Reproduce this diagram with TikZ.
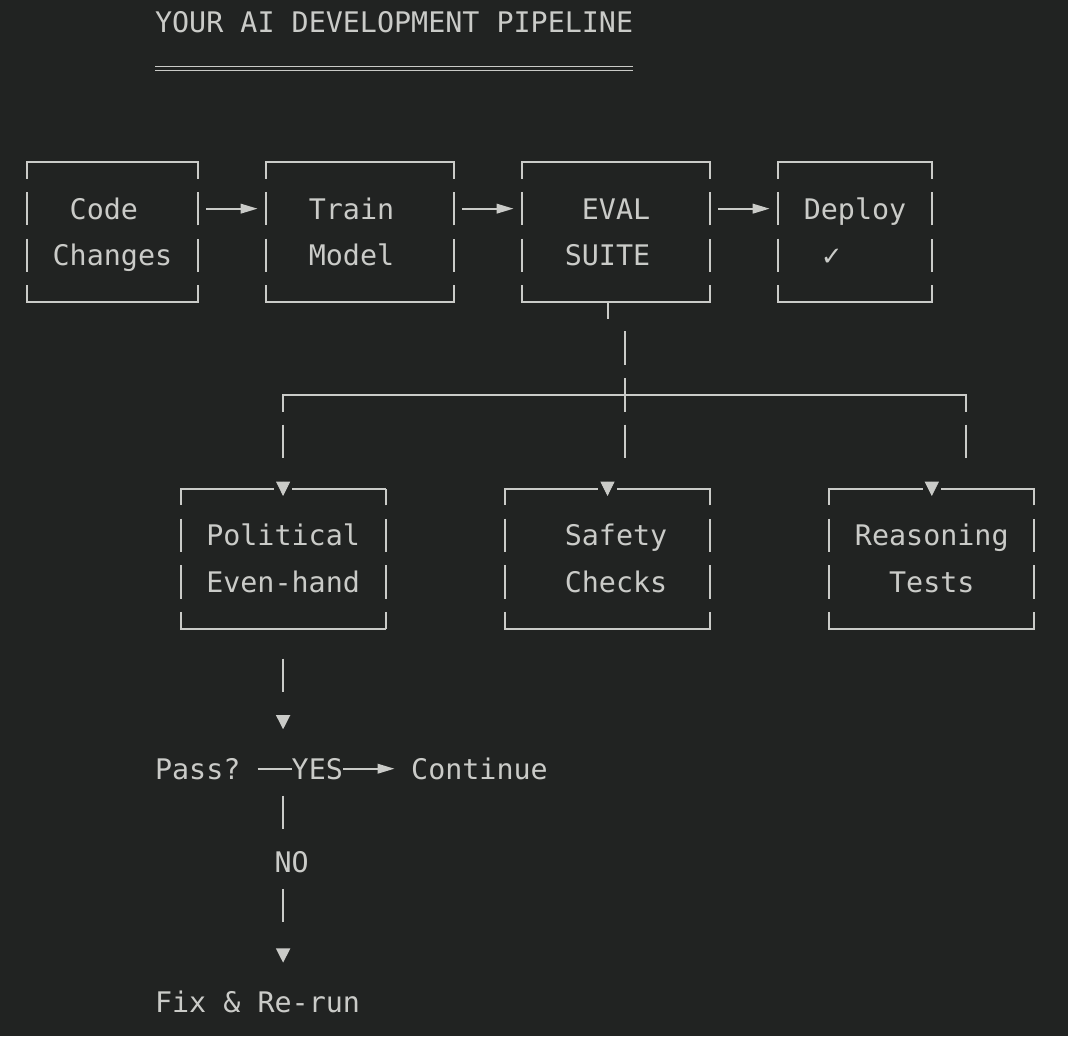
\documentclass[tikz,border=0pt]{standalone}
\usepackage{fontspec}
\setmonofont{DejaVu Sans Mono}
\newfontfamily\checkfont{DejaVu Sans}
\usepackage{tikz}
\usetikzlibrary{arrows.meta,calc}
\definecolor{termBg}{HTML}{212322}
\definecolor{termFg}{HTML}{CACBC8}
\newcommand\mono{\ttfamily\fontsize{14.18pt}{23.33pt}\selectfont}
\newcommand\monopad{\hphantom{0}}
\tikzset{
  % one text cell = 17.07px wide, one text row = 46.67px high (1px = 0.5pt)
  txt/.style={
    font=\mono,
    text=termFg,
    inner sep=0pt,
    outer sep=0pt,
    text height=10.3pt,
    text depth=0pt,
    anchor=west
  },
  hbar/.style={
    draw=termFg,
    line width=0.95pt,
    line cap=rect
  },
  vbar/.style={
    draw=termFg,
    line width=1pt
  },
  boxside/.style={
    vbar,
    dash pattern=on 16.75pt off 6.585pt,
    dash phase=8.375pt
  },
  asciibox/.style={
    minimum width=#1,
    minimum height=70pt,
    inner sep=0pt,
    outer sep=0pt,
    align=left,
    font=\mono,
    text=termFg,
    text height=37.33pt,
    text depth=3.66pt,
    append after command={
      (\tikzlastnode.north west) edge[hbar] (\tikzlastnode.north east)
                                 edge[boxside] (\tikzlastnode.south west)
      (\tikzlastnode.south east) edge[hbar] (\tikzlastnode.south west)
                                 edge[boxside] (\tikzlastnode.north east)
    }
  },
  flow/.style={
    hbar,
    line cap=butt,
    -{Triangle[length=8.5pt,width=4.8pt]},
    shorten <=4.27pt,
    shorten >=4.27pt
  },
  tipdown/.style={
    draw=termFg,
    -{Triangle[length=7.15pt,width=7pt]}
  },
  dblrule/.style={
    draw=termFg,
    double=termBg,
    double distance=1.2pt,
    line width=0.85pt
  }
}

\begin{document}
\begin{tikzpicture}[x=0.5pt,y=-0.5pt]

\fill[termBg] (0,0) rectangle (1068,1036);

\node[txt] (title) at (155.1,22) {YOUR AI DEVELOPMENT PIPELINE};
\draw[dblrule] ([yshift=-18.1pt]title.south west) -- ([yshift=-18.1pt]title.south east);

% main pipeline
\node[asciibox=85.35pt] (code) at (112.4,232) {\monopad Code\\Changes};
\node[asciibox=93.9pt] (train) at (360,232) {Train\monopad\\Model};
\node[asciibox=93.9pt] (eval) at (616,232) {\monopad EVAL\monopad\\SUITE};
\node[asciibox=76.8pt] (deploy) at (855,232)
{Deploy\\\monopad{\checkfont\fontsize{13pt}{13pt}\selectfont ✓}};

\draw[flow] ([yshift=11.67pt]code.east) -- ([yshift=11.67pt]train.west);
\draw[flow] ([yshift=11.67pt]train.west -| train.east) -- ([yshift=11.67pt]eval.west);
\draw[flow] ([yshift=11.67pt]eval.east) -- ([yshift=11.67pt]deploy.west);

% eval checks
\node[asciibox=102.4pt] (pol) at (283.1,558.7) {Political\\Even-hand};
\node[asciibox=102.4pt] (safe) at (607.5,558.7) {\monopad Safety\\\monopad Checks};
\node[asciibox=102.4pt] (reas) at (931.8,558.7) {Reasoning\\\monopad\monopad Tests};

\coordinate (hub) at (624.5,395.4);
\coordinate (lft) at (pol.north |- hub);
\coordinate (rgt) at (965.9,395.4);

\draw[vbar] ([xshift=-4.25pt]eval.south) -- ++(0,16.75);
\draw[vbar, dash pattern=on 16.75pt off 6.585pt] ([yshift=32pt]hub) -- ([yshift=-31.4pt]hub);
\draw[hbar] (lft) -- (rgt);
\foreach \c in {lft,rgt}
  \draw[vbar, dash pattern=on 8.375pt off 6.3pt on 16.75pt off 20pt] (\c) -- ++(0,62.8);
\foreach \b in {pol,safe,reas}{
  \fill[termBg] ([xshift=-4.6pt,yshift=1.2pt]\b.north) rectangle ([xshift=4.6pt,yshift=-1.2pt]\b.north);
  \draw[tipdown] ([yshift=3.5pt]\b.north) -- ([yshift=-3.65pt]\b.north);
}

% decision
\coordinate (dec) at (283.1,768.7);
\node[txt] (pass) at (155.1,768.7) {Pass?};
\node[txt] (cont) at (411.2,768.7) {Continue};
\node[txt] (no) at (274.6,862.1) {NO};
\node[txt] (fix) at (155.1,1002.1) {Fix \& Re-run};

\draw[vbar, tipdown, dash pattern=on 16.75pt off 40pt, shorten <=14.95pt, shorten >=19.7pt]
  (pol.south) -- (dec);
\draw[flow, shorten <=8.53pt, shorten >=8.35pt] (pass.east) --
  node[txt, anchor=center, fill=termBg, pos=0.45] (yes) {YES} (cont.west);
\draw[vbar, tipdown, dash pattern=on 16.75pt off 29.8pt on 16.75pt off 40pt,
  shorten <=13.5pt, shorten >=14.55pt] (dec) -- (dec |- fix.north);

\end{tikzpicture}
\end{document}
